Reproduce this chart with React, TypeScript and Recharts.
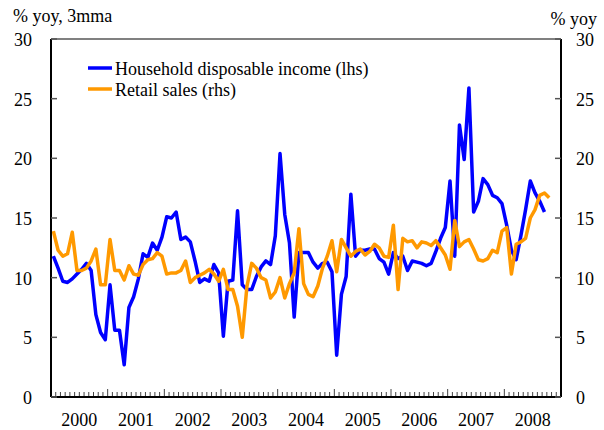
import React from 'react';
import { LineChart, Line, XAxis, YAxis, ReferenceLine } from 'recharts';

const years = ['2000', '2001', '2002', '2003', '2004', '2005', '2006', '2007', '2008'];
const yTicks = [0, 5, 10, 15, 20, 25, 30];

// Household disposable income, % yoy 3mma, monthly from Jan 2000 (lhs)
const incomeValues = [
  11.8, 10.8, 9.7, 9.6, 9.9, 10.3, 10.7, 11.2, 10.6, 6.9, 5.4, 4.8,
  9.4, 5.6, 5.6, 2.7, 7.5, 8.4, 9.9, 12.0, 11.7, 12.9, 12.3, 13.4,
  15.1, 15.0, 15.5, 13.2, 13.4, 13.0, 11.4, 9.6, 9.9, 9.7, 11.1, 10.4,
  5.1, 9.7, 9.8, 15.6, 9.4, 9.0, 9.0, 10.1, 10.9, 11.4, 11.1, 13.5,
  20.4, 15.3, 12.9, 6.7, 12.1, 12.1, 12.1, 11.3, 10.8, 11.2, 11.3, 10.5,
  3.5, 8.6, 10.1, 17.0, 11.8, 12.3, 12.3, 12.4, 12.4, 11.6, 11.3, 10.3,
  12.1, 11.6, 11.8, 10.6, 11.4, 11.3, 11.2, 11.0, 11.2, 12.2, 13.3, 14.2,
  18.1, 11.8, 22.8, 19.9, 25.9, 15.5, 16.4, 18.3, 17.8, 16.9, 16.7, 16.2,
  14.4, 12.3, 11.5, 13.5, 15.7, 18.1, 17.1, 16.4, 15.5,
];

// Retail sales, % yoy 3mma, monthly from Jan 2000 (rhs)
const retailValues = [
  13.9, 12.3, 11.8, 12.0, 13.8, 10.6, 10.6, 10.8, 11.4, 12.4, 9.4, 9.4,
  13.2, 10.6, 10.6, 9.8, 11.0, 10.3, 10.2, 11.1, 11.5, 11.6, 12.1, 11.8,
  10.3, 10.4, 10.4, 10.6, 11.4, 9.6, 10.0, 10.2, 10.4, 10.7, 10.3, 9.7,
  10.7, 9.0, 9.0, 7.6, 5.0, 9.3, 11.2, 10.8, 10.0, 9.8, 8.3, 8.8,
  10.0, 8.3, 9.5, 10.4, 14.1, 9.5, 8.6, 8.4, 9.3, 10.8, 11.8, 13.1,
  10.5, 13.2, 12.5, 11.8, 12.2, 12.4, 11.9, 12.2, 12.8, 12.5, 11.8, 11.7,
  14.4, 9.0, 13.3, 13.0, 13.1, 12.5, 13.0, 12.9, 12.7, 13.1, 12.5, 11.9,
  10.7, 14.8, 12.6, 13.0, 13.2, 12.4, 11.5, 11.4, 11.6, 12.3, 12.1, 13.9,
  14.2, 10.3, 12.8, 13.0, 13.3, 15.0, 15.7, 16.9, 17.1, 16.7,
];

const seriesNames = ['Household disposable income (lhs)', 'Retail sales (rhs)'];
const seriesColors = ['#0000FF', '#FF9900'];

const totalMonths = years.length * 12;
const data = retailValues.map((r, i) => ({
  m: i + 0.5,
  income: i < incomeValues.length ? incomeValues[i] : null,
  retail: r,
}));
const monthTicks = Array.from({ length: totalMonths + 1 }, (_, i) => i);

const FONT = '"Liberation Serif", "Times New Roman", serif';

const XTick = (props: any) => {
  const { x, y, payload } = props;
  const v = payload.value as number;
  const isYear = v % 12 === 0;
  const label = v % 12 === 6 ? years[Math.floor(v / 12)] : null;
  return (
    <g>
      {v > 0 && v < totalMonths && (
        <line x1={x} x2={x} y1={y - 1} y2={y - (isYear ? 8 : 5)} stroke="#444" strokeWidth={1} />
      )}
      {label && (
        <text x={x} y={y + 29} textAnchor="middle" fontSize={18} fill="#000" fontFamily={FONT}>
          {label}
        </text>
      )}
    </g>
  );
};

const LeftTick = (props: any) => {
  const { x, y, payload } = props;
  return (
    <g>
      <line x1={x} x2={x + 6} y1={y} y2={y} stroke="#555" strokeWidth={1.5} />
      <text x={x - 19} y={y + 7} textAnchor="end" fontSize={18} fill="#000" fontFamily={FONT}>
        {payload.value}
      </text>
    </g>
  );
};

const RightTick = (props: any) => {
  const { x, y, payload } = props;
  return (
    <g>
      <line x1={x - 6} x2={x} y1={y} y2={y} stroke="#555" strokeWidth={1.5} />
      <text x={x + 15} y={y + 7} textAnchor="start" fontSize={18} fill="#000" fontFamily={FONT}>
        {payload.value}
      </text>
    </g>
  );
};

export default function App() {
  return (
    <div style={{ position: 'absolute', left: 0, top: 0, width: 604, height: 430, background: '#fff' }}>
      <LineChart
        width={604}
        height={430}
        data={data}
        margin={{ top: 39, right: 3, bottom: 0, left: 11 }}
      >
        <XAxis
          dataKey="m"
          type="number"
          domain={[0, totalMonths]}
          ticks={monthTicks}
          interval={0}
          height={33}
          tickSize={0}
          tickMargin={0}
          tickLine={false}
          tick={<XTick />}
          axisLine={{ stroke: '#000', strokeWidth: 2 }}
          allowDataOverflow
        />
        <YAxis
          yAxisId="left"
          orientation="left"
          width={40}
          domain={[0, 30]}
          ticks={yTicks}
          interval={0}
          tickSize={0}
          tickMargin={0}
          tickLine={false}
          tick={<LeftTick />}
          axisLine={{ stroke: '#000', strokeWidth: 2 }}
        />
        <YAxis
          yAxisId="right"
          orientation="right"
          width={40}
          domain={[0, 30]}
          ticks={yTicks}
          interval={0}
          tickSize={0}
          tickMargin={0}
          tickLine={false}
          tick={<RightTick />}
          axisLine={{ stroke: '#000', strokeWidth: 2 }}
        />
        <ReferenceLine yAxisId="left" y={30} stroke="#808080" strokeWidth={2} />
        <Line
          yAxisId="left"
          type="linear"
          dataKey="income"
          stroke={seriesColors[0]}
          strokeWidth={3.5}
          dot={false}
          isAnimationActive={false}
          strokeLinejoin="round"
        />
        <Line
          yAxisId="right"
          type="linear"
          dataKey="retail"
          stroke={seriesColors[1]}
          strokeWidth={3.5}
          dot={false}
          isAnimationActive={false}
          strokeLinejoin="round"
        />
      </LineChart>
      <svg
        width={604}
        height={430}
        style={{ position: 'absolute', left: 0, top: 0, pointerEvents: 'none' }}
      >
        <text x={13} y={22} fontSize={18} fill="#000" fontFamily={FONT}>% yoy, 3mma</text>
        <text x={597} y={25} textAnchor="end" fontSize={18} fill="#000" fontFamily={FONT}>% yoy</text>
        <line x1={88} x2={112} y1={68} y2={68} stroke={seriesColors[0]} strokeWidth={3.5} />
        <text x={115} y={75} fontSize={18} fill="#000" fontFamily={FONT}>{seriesNames[0]}</text>
        <line x1={88} x2={112} y1={89} y2={89} stroke={seriesColors[1]} strokeWidth={3.5} />
        <text x={115} y={96} fontSize={18} fill="#000" fontFamily={FONT}>{seriesNames[1]}</text>
      </svg>
    </div>
  );
}
